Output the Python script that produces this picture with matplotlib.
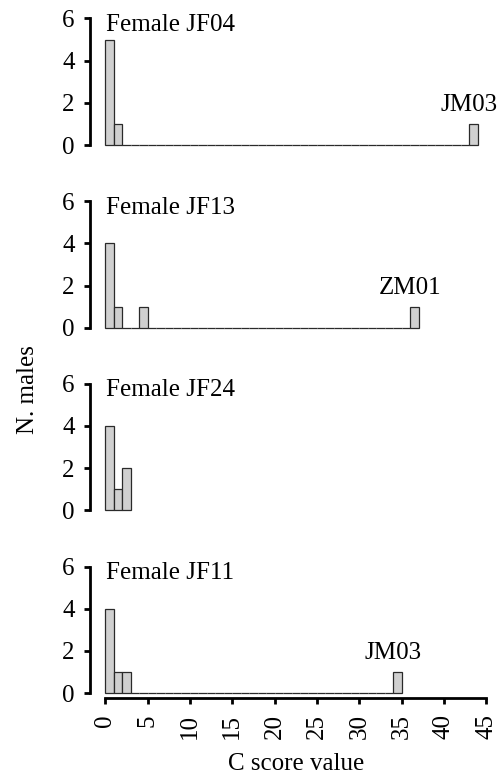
#!/usr/bin/env python3
"""
Histograms of C score values per female (N. males per 1-unit bin)
"""

import numpy as np
import matplotlib
matplotlib.use("Agg")
import matplotlib.pyplot as plt

plt.rcParams['font.family'] = ['Liberation Serif', 'DejaVu Serif']

# Data: one histogram per female, bins of width 1 starting at 0
females = ["Female JF04", "Female JF13", "Female JF24", "Female JF11"]
last_bin = [44, 37, 3, 35]          # upper edge of the last bin

jf04_bins = [0, 1, 43]
jf04_counts = [5, 1, 1]
jf13_bins = [0, 1, 4, 36]
jf13_counts = [4, 1, 1, 1]
jf24_bins = [0, 1, 2]
jf24_counts = [4, 1, 2]
jf11_bins = [0, 1, 2, 34]
jf11_counts = [4, 1, 1, 1]

outlier_names = ["JM03", "ZM01", None, "JM03"]
outlier_bins = [43, 36, None, 34]

y_ticks = [0, 2, 4, 6]
x_ticks = list(range(0, 50, 5))

all_bins = [jf04_bins, jf13_bins, jf24_bins, jf11_bins]
all_counts = [jf04_counts, jf13_counts, jf24_counts, jf11_counts]

W, H = 503, 777
fig = plt.figure(figsize=(W / 100, H / 100), dpi=100)

# layout in pixels
px_x = 8.467          # px per score unit
px_y = 21.1           # px per male
ax_left = 90
zero_rows = [145 + 182.7 * i for i in range(4)]
x_lo, x_hi = -1.8, 46.8
y_lo, y_hi = -0.24, 6.24

FS = 18
AX_LW = 2.0
for i, name in enumerate(females):
    y0 = zero_rows[i]
    bottom_px = y0 - y_lo * px_y
    top_px = y0 - y_hi * px_y
    width_px = (x_hi - x_lo) * px_x
    ax = fig.add_axes([ax_left / W, 1 - bottom_px / H,
                       width_px / W, (bottom_px - top_px) / H])

    counts = np.zeros(last_bin[i])
    counts[all_bins[i]] = all_counts[i]
    edges = np.arange(last_bin[i] + 1)
    ax.bar(edges[:-1], counts, width=1, align='edge',
           color='#d0d0d0', edgecolor='#2a2a2a', linewidth=0.9)

    ax.set_xlim(x_lo, x_hi)
    ax.set_ylim(y_lo, y_hi)
    ax.patch.set_visible(False)

    for s in ['top', 'right']:
        ax.spines[s].set_visible(False)
    ax.spines['left'].set_bounds(0, 6)
    ax.spines['left'].set_linewidth(AX_LW)
    ax.set_yticks(y_ticks)
    ax.tick_params(axis='y', direction='out', length=4, width=AX_LW,
                   labelsize=FS, pad=7)

    if i < 3:
        ax.spines['bottom'].set_visible(False)
        ax.set_xticks([])
    else:
        ax.spines['bottom'].set_bounds(0, 45)
        ax.spines['bottom'].set_linewidth(AX_LW)
        ax.set_xticks(x_ticks)
        ax.set_xticklabels([str(t) for t in x_ticks], rotation=90)
        ax.tick_params(axis='x', direction='out', length=4.5, width=AX_LW,
                       labelsize=FS, pad=7)

    ax.text(0.1, 5.4, name, fontsize=FS, ha='left', va='baseline')
    if outlier_names[i] is not None:
        ax.text(outlier_bins[i], 1.6, outlier_names[i], fontsize=FS,
                ha='center', va='baseline')

fig.text(28 / W, 1 - 390 / H, "N. males", rotation=90, fontsize=FS,
         ha='center', va='center')
fig.text((106 + 22.5 * px_x) / W, 1 - 770 / H, "C score value",
         fontsize=FS, ha='center', va='baseline')

plt.savefig("out.png", dpi=100)
